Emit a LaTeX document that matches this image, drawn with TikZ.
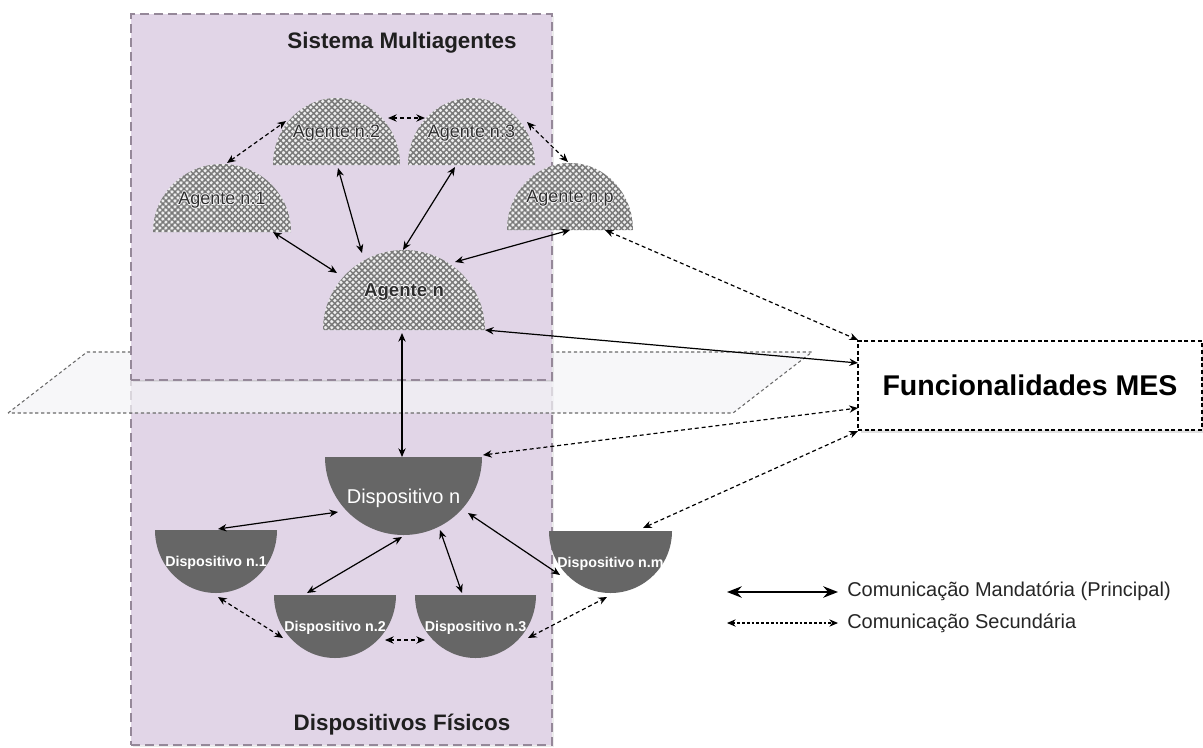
\documentclass[tikz,border=0pt]{standalone}
\usepackage{fontspec}
\setmainfont{Liberation Sans}
\usetikzlibrary{arrows.meta,patterns.meta,calc,shadows}

\definecolor{lav}{HTML}{E1D5E7}
\definecolor{lavedge}{HTML}{958899}
\definecolor{devgray}{HTML}{666666}
\definecolor{hatchgray}{HTML}{7A7A7A}
\definecolor{hatchbg}{HTML}{EFEFEF}
\definecolor{planefill}{HTML}{F4F4F7}
\definecolor{planeedge}{HTML}{6A6A6A}
\definecolor{agenttext}{HTML}{2E2E2E}
\definecolor{legendtext}{HTML}{262626}

% text with a soft white outline, so it stays legible on the hatching
\newcommand{\halotext}[1]{\leavevmode
  \rlap{\kern0.7pt\textcolor{white!85!lav}{#1}}%
  \rlap{\kern-0.7pt\textcolor{white!85!lav}{#1}}%
  \rlap{\raisebox{0.7pt}{\textcolor{white!85!lav}{#1}}}%
  \rlap{\raisebox{-0.7pt}{\textcolor{white!85!lav}{#1}}}%
  #1}

% half-ellipse with flat bottom, cross-hatched (software agents)
\newcommand{\agentshape}[7]{%
  \path[agentbody] ({#2-#4/2},{#3+#5/2}) arc[start angle=180, end angle=360, x radius={#4/2}, y radius={#5}] -- cycle;
  \node[#6, minimum width={#4*0.75pt}, minimum height={#5*0.75pt}] (#1) at (#2,#3) {\halotext{#7}};
}
% half-disc with flat top, solid grey (physical devices)
\newcommand{\deviceshape}[7]{%
  \path[devbody] ({#2-#4/2},{#3-#5/2}) arc[start angle=180, end angle=0, x radius={#4/2}, y radius={#5}] -- cycle;
  \node[#6, minimum width={#4*0.75pt}, minimum height={#5*0.75pt}] (#1) at (#2,#3) {#7};
}

\tikzset{
  panel/.style={draw=lavedge, fill=lav, line width=1.5pt, dash pattern=on 6.5pt off 4pt,
    inner sep=0pt, drop shadow={shadow xshift=1.5pt, shadow yshift=-1.5pt, opacity=.15}},
  paneltitle/.style={font=\fontsize{16.8pt}{20pt}\selectfont\bfseries, text=black!88, anchor=base, inner sep=0pt},
  agentbody/.style={preaction={fill=hatchbg}, pattern={Hatch[angle=45,distance=3.2pt,line width=1.1pt]}, pattern color=hatchgray},
  devbody/.style={fill=devgray},
  shapebox/.style={inner sep=0pt, text depth=0pt},
  agentlabel/.style={shapebox, font=\fontsize{13.5pt}{16pt}\selectfont, text=agenttext, text height=9.7pt},
  agentmain/.style={shapebox, font=\fontsize{14pt}{16pt}\selectfont\bfseries, text=agenttext, text height=10pt},
  devmain/.style={shapebox, font=\fontsize{15pt}{18pt}\selectfont, text=white, text height=10.7pt},
  devlabel/.style={shapebox, font=\fontsize{10.7pt}{13pt}\selectfont\bfseries, text=white, text height=7.7pt},
  plane/.style={fill=planefill, fill opacity=.72, draw=planeedge, draw opacity=1, line width=.8pt, dash pattern=on 2.4pt off 2pt},
  funcbox/.style={draw=black, fill=white, line width=.9pt, dash pattern=on 3pt off 2pt, inner sep=0pt,
    text height=15.3pt, text depth=0pt, font=\fontsize{21.4pt}{24pt}\selectfont\bfseries,
    drop shadow={shadow xshift=2pt, shadow yshift=-2pt, opacity=.25}},
  link/.style={{Stealth[length=6.5pt,width=5.5pt]}-{Stealth[length=6.5pt,width=5.5pt]}, line width=.9pt, black},
  sublink/.style={link, dash pattern=on 3pt off 2.2pt},
  legendmain/.style={{Stealth[length=11pt,width=8.5pt]}-{Stealth[length=11pt,width=8.5pt]}, line width=1.8pt, black},
  legendsub/.style={{Stealth[length=6.5pt,width=5.5pt]}-{Stealth[length=6.5pt,width=5.5pt]}, line width=.8pt, black, dash pattern=on 2pt off 1.6pt},
  legendlabel/.style={font=\fontsize{15pt}{18pt}\selectfont, text=legendtext, anchor=base west, inner sep=0pt},
}

\begin{document}
\begin{tikzpicture}[x=0.75pt, y=-0.75pt]
\useasboundingbox (0,0) rectangle (1203,747);

% lower panel, interface plane, upper panel
\node[panel, minimum width=315.75pt, minimum height=273.75pt] (dev) at (341.5,562.5) {};
\path[plane] (8,413) -- (87,352) -- (812,352) -- (733,413) -- cycle;
\node[panel, minimum width=315.75pt, minimum height=274.5pt] (mas) at (341.5,197) {};

\node[paneltitle] (mastitle) at (402,48) {Sistema Multiagentes};
\node[paneltitle] (devtitle) at (402,730) {Dispositivos Físicos};

% agents
\agentshape{a1}{222}{198}{138}{68}{agentlabel}{Agente n.1}
\agentshape{a2}{336.5}{131.5}{127}{67}{agentlabel}{Agente n.2}
\agentshape{a3}{471.5}{131.5}{127}{67}{agentlabel}{Agente n.3}
\agentshape{ap}{570}{196.5}{126}{67}{agentlabel}{Agente n.p}
\agentshape{an}{404}{290}{162}{80}{agentmain}{Agente n}

% devices
\deviceshape{dn}{403.5}{496}{157}{78}{devmain}{Dispositivo n}
\deviceshape{d1}{216}{561.5}{122}{63}{devlabel}{Dispositivo n.1}
\deviceshape{d2}{335}{626.5}{122}{63}{devlabel}{Dispositivo n.2}
\deviceshape{d3}{475.5}{626.5}{121}{63}{devlabel}{Dispositivo n.3}
\deviceshape{dm}{610.5}{562}{123}{62}{devlabel}{Dispositivo n.m}

% MES functions
\node[funcbox, minimum width=258pt, minimum height=66.75pt] (mes) at (1030,385.5) {Funcionalidades MES};

% mandatory links
\draw[link] ($(a1)+(51,34)$) -- ($(an)+(-67,-17)$);
\draw[link] ($(a2)+(1.5,36.5)$) -- ($(an)+(-42,-37)$);
\draw[link] ($(a3)+(-16.5,35.5)$) -- ($(an)+(-1,-40)$);
\draw[link] ($(ap)+(0,33.5)$) -- ($(an)+(51,-28)$);
\draw[link] ($(an)+(81,40)$) -- ($(mes)+(-172,-22.5)$);
\draw[link] ($(an)+(-2,43)$) -- ($(dn)+(-1.5,-39)$);
\draw[link] ($(dn)+(-65.5,16)$) -- ($(d1)+(2,-32.5)$);
\draw[link] ($(dn)+(-1.5,41)$) -- ($(d2)+(-28,-33.5)$);
\draw[link] ($(dn)+(36.5,34)$) -- ($(d3)+(-13.5,-33.5)$);
\draw[link] ($(dn)+(64.5,17)$) -- ($(dm)+(-50.5,13)$);

% secondary links
\draw[sublink] ($(a1)+(5,-35)$) -- ($(a2)+(-50.5,-10.5)$);
\draw[sublink] ($(a2)+(51.5,-13.5)$) -- ($(a3)+(-46.5,-13.5)$);
\draw[sublink] ($(a3)+(55.5,-9.5)$) -- ($(ap)+(-2,-34.5)$);
\draw[sublink] ($(ap)+(35,33.5)$) -- ($(mes)+(-172,-45.5)$);
\draw[sublink] ($(dn)+(79.5,-41)$) -- ($(mes)+(-172,22.5)$);
\draw[sublink] ($(dm)+(32.5,-34)$) -- ($(mes)+(-172,45.5)$);
\draw[sublink] ($(d1)+(2,35.5)$) -- ($(d2)+(-52,11.5)$);
\draw[sublink] ($(d2)+(50,13.5)$) -- ($(d3)+(-50.5,13.5)$);
\draw[sublink] ($(d3)+(52.5,11.5)$) -- ($(dm)+(-3.5,35)$);

% legend
\coordinate (lm1) at (727,592);
\coordinate (lm2) at (838,592);
\coordinate (ls1) at (727,623);
\coordinate (ls2) at (838,623);
\draw[legendmain] (lm1) -- (lm2);
\draw[legendsub] (ls1) -- (ls2);
\node[legendlabel] (lmtext) at (847,596) {Comunicação Mandatória (Principal)};
\node[legendlabel] (lstext) at (847,628) {Comunicação Secundária};
\end{tikzpicture}
\end{document}
